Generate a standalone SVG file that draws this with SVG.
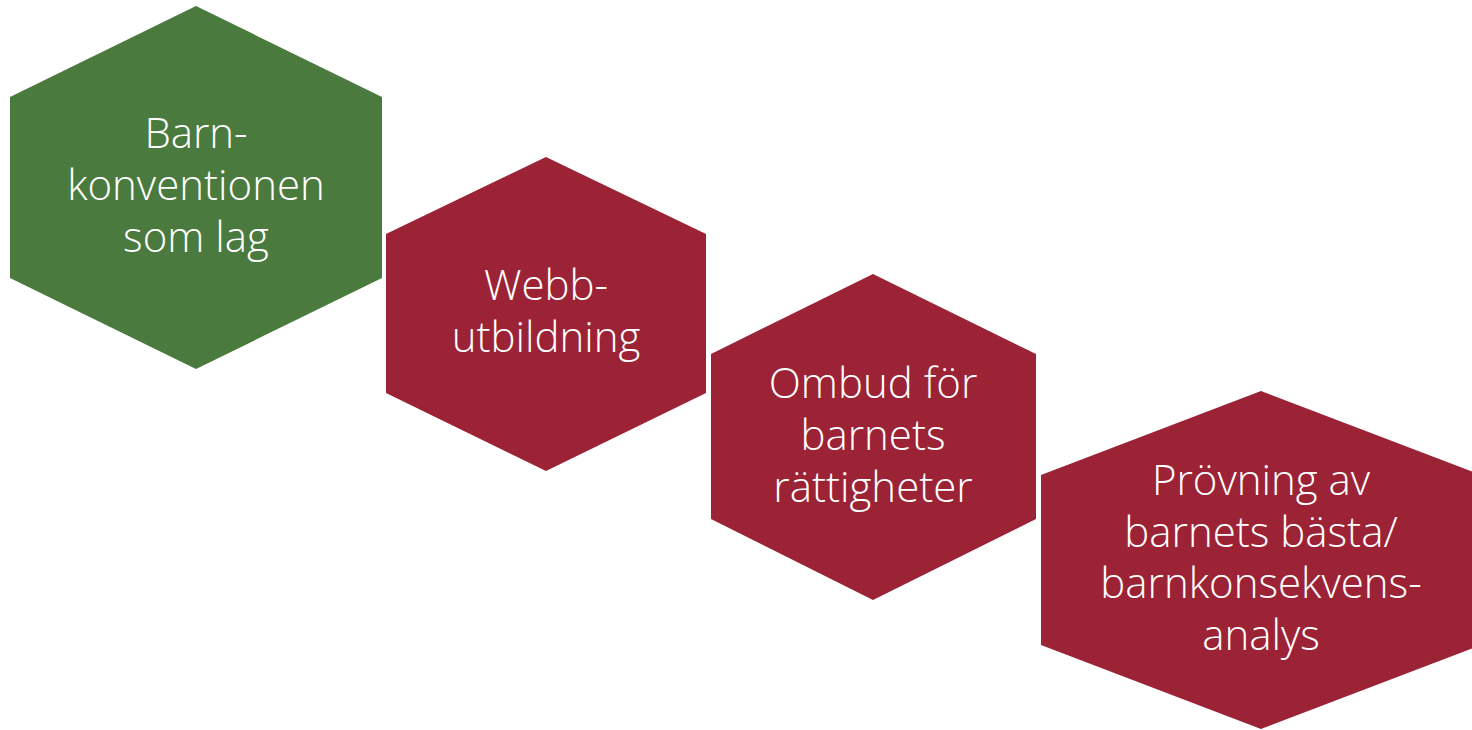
<svg xmlns="http://www.w3.org/2000/svg" width="1472" height="730" viewBox="0 0 1472 730">
<style>
.g{fill:#4A7A3D}
.r{fill:#9C2236}
text{font-family:"Open Sans","Liberation Sans",sans-serif;font-weight:300;font-size:42px;fill:#fff;text-anchor:middle}
</style>
<rect width="1472" height="730" fill="#fff"/>
<g id="connectors"/>
<g id="node1">
<polygon class="g" points="196,6 382,97 382,278 196,369 10,278 10,97"/>
<text x="196" y="148">Barn-</text>
<text x="196" y="200">konventionen</text>
<text x="196" y="252">som lag</text>
</g>
<g id="node2">
<polygon class="r" points="546,157 706,234 706,393 546,471 386,393 386,234"/>
<text x="546" y="300">Webb-</text>
<text x="546" y="352">utbildning</text>
</g>
<g id="node3">
<polygon class="r" points="873,274 1036,354 1036,519 873,600 711,519 711,354"/>
<text x="873" y="398">Ombud för</text>
<text x="873" y="450">barnets</text>
<text x="873" y="502">rättigheter</text>
</g>
<g id="node4">
<polygon class="r" points="1261,391 1481,475 1481,645 1261,729 1041,645 1041,475"/>
<text x="1261" y="495">Prövning av</text>
<text x="1261" y="547">barnets bästa/</text>
<text x="1261" y="598">barnkonsekvens-</text>
<text x="1261" y="650">analys</text>
</g>
</svg>
